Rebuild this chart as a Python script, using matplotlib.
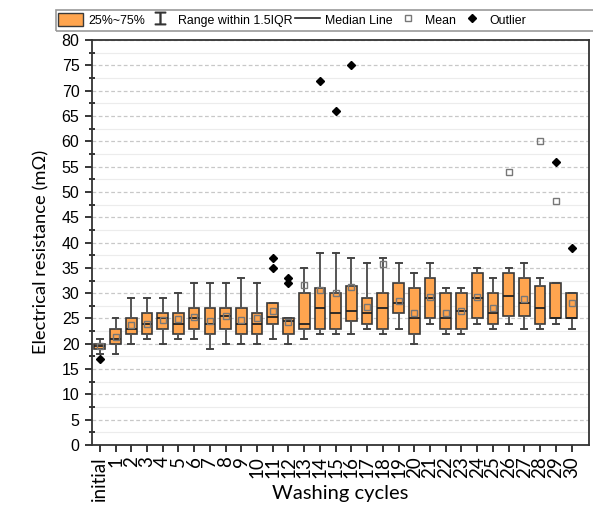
import numpy as np
import matplotlib.pyplot as plt
from matplotlib.patches import Patch, Rectangle
from matplotlib.lines import Line2D

plt.rcParams['font.family'] = ['Liberation Sans', 'DejaVu Sans']

labels = ['initial'] + [str(i) for i in range(1, 31)]

# box stats (mOhm)
q1 = [19, 20, 22, 22, 23, 22, 23, 22, 23, 22, 22, 24, 22, 23, 23, 23,
      24.5, 24, 23, 26, 22, 25, 23, 23, 25, 24, 25.5, 25.5, 24, 25, 25]
q3 = [20, 23, 25, 26, 26, 26, 27, 27, 27, 27, 26, 28, 25, 30, 31, 30,
      31.5, 29, 30, 32, 31, 33, 30, 30, 34, 30, 34, 33, 31.5, 32, 30]
med = [19.5, 21, 23, 24, 25, 24, 25, 24, 25.5, 24, 24, 25.3, 24.5, 24, 27, 26,
       26.5, 26, 27, 28, 25, 29, 25, 26.5, 29, 26, 29.5, 28, 27, 25, 25]
mean = [19.5, 21.3, 23.7, 24, 24.7, 24.9, 25.3, 24.5, 25.5, 24.7, 25, 26.5, 24.4,
        31.6, 30.6, 30, 31.3, 27.3, 35.7, 28.4, 26, 29.3, 26, 26.5, 29.3, 27,
        54, 28.8, 60, 48.3, 28]
wlo = [18, 18, 20, 21, 20, 21, 21, 19, 20, 20, 20, 21, 20, 21, 22, 22,
       22, 23, 22, 23, 20, 24, 22, 22, 24, 23, 24, 23, 23, 24, 23]
whi = [21, 25, 29, 29, 29, 30, 32, 32, 32, 33, 32, 28, 25, 35, 38, 38,
       37, 36, 37, 36, 34, 36, 31, 31, 35, 33, 35, 36, 33, 32, 30]
fliers = [[17], [], [], [], [], [], [], [], [], [], [], [37, 35], [33, 32], [],
          [72], [66], [75], [], [], [], [], [], [], [], [], [], [], [], [], [56], [39]]

orange = '#FFA54F'
edge = '#3a3a3a'

stats = []
for i in range(len(labels)):
    stats.append(dict(q1=q1[i], q3=q3[i], med=med[i], mean=mean[i],
                      whislo=wlo[i], whishi=whi[i], fliers=fliers[i]))

fig = plt.figure(figsize=(5.93, 5.08), dpi=100)
ax = fig.add_axes([0.155, 0.124, 0.838, 0.797])

pos = np.arange(len(labels))
ax.bxp(stats, positions=pos, widths=0.68, capwidths=0.38, showmeans=True,
       patch_artist=True,
       boxprops=dict(facecolor=orange, edgecolor=edge, linewidth=1.2),
       medianprops=dict(color='#222222', linewidth=1.3),
       whiskerprops=dict(color='#555555', linewidth=1.4),
       capprops=dict(color='#444444', linewidth=1.4),
       meanprops=dict(marker='s', markerfacecolor='none', markeredgecolor='#777777',
                      markersize=5, markeredgewidth=1.0),
       flierprops=dict(marker='D', markerfacecolor='black', markeredgecolor='black',
                       markersize=4.5))

ax.set_xlim(-0.5, 31.1)
ax.set_ylim(0, 80)
ax.set_yticks(np.arange(0, 81, 5))
ax.set_yticks(np.arange(2.5, 80, 5), minor=True)
ax.set_xticks(pos)
ax.set_xticklabels(labels, rotation=90, fontsize=13.5, family=['Lato', 'DejaVu Sans'])
ax.tick_params(axis='y', which='major', labelsize=11.5, direction='out', length=5,
               width=1.1, pad=4)
ax.tick_params(axis='y', which='minor', direction='inout', length=5, width=1.1)
ax.tick_params(axis='x', direction='out', length=5, width=1.1, pad=3)
ax.grid(axis='y', which='major', linestyle=(0, (3, 2)), color='#c8c8c8', linewidth=0.9)
ax.grid(axis='y', which='minor', linestyle='-', color='#ececec', linewidth=0.8)
ax.set_axisbelow(True)
for s in ax.spines.values():
    s.set_linewidth(1.3)
    s.set_color('#333333')

ax.set_ylabel('Electrical resistance (mΩ)', fontsize=13.2, family=['Lato', 'DejaVu Sans'])
ax.set_xlabel('Washing cycles', fontsize=14.5, family=['Lato', 'DejaVu Sans'])
ax.yaxis.set_label_coords(-0.085, 0.478)
ax.xaxis.set_label_coords(0.5, -0.098)

handles = [
    Patch(facecolor=orange, edgecolor=edge),
    Line2D([], [], color='#333333', marker='$\u2336$', linestyle='none', markersize=9),
    Line2D([], [], color='#222222', linewidth=1.2),
    Line2D([], [], color='#777777', marker='s', markerfacecolor='none',
           linestyle='none', markersize=4),
    Line2D([], [], color='black', marker='D', linestyle='none', markersize=4),
]
names = ['25%~75%', 'Range within 1.5IQR', 'Median Line', 'Mean', 'Outlier']
fig.legend(handles, names, loc='upper left', bbox_to_anchor=(0.0944, 0.980), ncol=5,
           fontsize=8.9, frameon=False,
           handlelength=2.0, handleheight=1.3, handletextpad=0.4,
           columnspacing=0.25, borderpad=0.2, borderaxespad=0)
# legend frame runs past the right edge like in the original
fig.patches.append(Rectangle((0.0944, 1 - 30.7 / 508), 0.95, 20.7 / 508,
                             transform=fig.transFigure, fill=False,
                             edgecolor='#999999', linewidth=1.2))

fig.savefig('out.png', dpi=100)
